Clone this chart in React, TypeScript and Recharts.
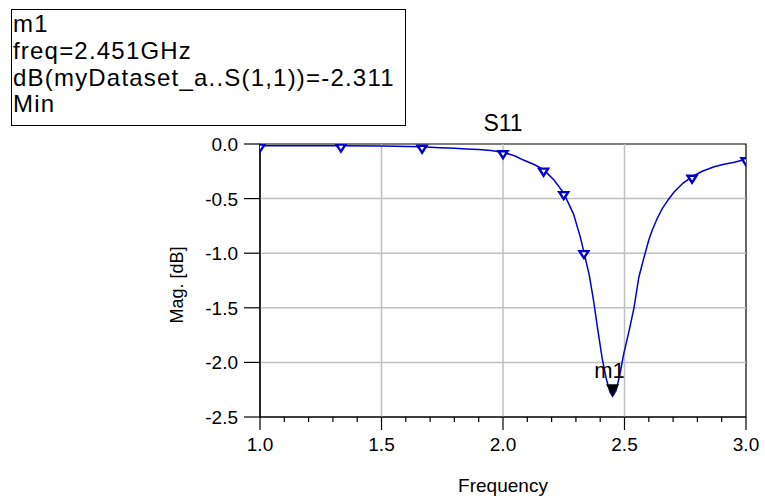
import React from 'react';
import {
  ComposedChart,
  Line,
  Scatter,
  XAxis,
  YAxis,
  ReferenceLine,
  ReferenceArea,
  Label
} from 'recharts';

// S11 sweep (GHz, dB)
const freq = [
  1.0, 1.1, 1.2, 1.333, 1.5, 1.667, 1.74, 1.8, 1.85, 1.9, 1.95, 2.0, 2.05, 2.084, 2.13, 2.167,
  2.21, 2.25, 2.29, 2.318, 2.333, 2.355, 2.373, 2.39, 2.408, 2.425, 2.44, 2.451, 2.465, 2.48,
  2.497, 2.52, 2.539, 2.559, 2.58, 2.6, 2.614, 2.635, 2.656, 2.68, 2.704, 2.74, 2.778, 2.82,
  2.869, 2.91, 2.952, 3.0
];
const s11 = [
  -0.015, -0.015, -0.015, -0.015, -0.018, -0.025, -0.034, -0.04, -0.045, -0.05, -0.06, -0.075,
  -0.11, -0.147, -0.19, -0.235, -0.33, -0.45, -0.64, -0.85, -0.99, -1.2, -1.44, -1.7, -1.96,
  -2.15, -2.27, -2.311, -2.26, -2.12, -1.92, -1.7, -1.5, -1.22, -1.04, -0.88, -0.79, -0.68,
  -0.59, -0.51, -0.44, -0.36, -0.3, -0.25, -0.209, -0.185, -0.168, -0.14
];

// sample markers (triangles) along the trace
const markerFreq = [1.0, 1.333, 1.667, 2.0, 2.167, 2.25, 2.333, 2.778, 3.0];
const markerDb = [-0.015, -0.015, -0.025, -0.075, -0.235, -0.45, -0.99, -0.3, -0.14];

// marker m1
const m1Freq = 2.451;
const m1Db = -2.311;

const xTicks = [
  1.0, 1.1, 1.2, 1.3, 1.4, 1.5, 1.6, 1.7, 1.8, 1.9, 2.0, 2.1, 2.2, 2.3, 2.4, 2.5, 2.6, 2.7,
  2.8, 2.9, 3.0
];
const yTicks = [0, -0.5, -1.0, -1.5, -2.0, -2.5];
const xGrid = [1.5, 2.0, 2.5];
const yGrid = [-0.5, -1.0, -1.5, -2.0];

const curve = freq.map((f, i) => ({ freq: f, db: s11[i] }));
const markers = markerFreq.map((f, i) => ({ freq: f, db: markerDb[i] }));
const m1 = [{ freq: m1Freq, db: m1Db }];

const FONT = '"Liberation Sans", Arial, sans-serif';
const BLUE = '#0000cc';

const XTick = (props: any) => {
  const { x, y, payload } = props;
  const v = payload.value as number;
  const major = Math.abs(v * 2 - Math.round(v * 2)) < 1e-6;
  return (
    <g>
      <line x1={x} x2={x} y1={y} y2={y + (major ? 13 : 5)} stroke="#000" strokeWidth={1.2} />
      {major && (
        <text x={x} y={y + 34} textAnchor="middle" fontFamily={FONT} fontSize={19} fill="#000">
          {v.toFixed(1)}
        </text>
      )}
    </g>
  );
};

const YTick = (props: any) => {
  const { x, y, payload } = props;
  const v = payload.value as number;
  return (
    <g>
      <line x1={x - 16} x2={x} y1={y} y2={y} stroke="#000" strokeWidth={1.2} />
      <text x={x - 22} y={y + 7} textAnchor="end" fontFamily={FONT} fontSize={19} fill="#000">
        {v.toFixed(1)}
      </text>
    </g>
  );
};

const SampleMarker = (props: any) => {
  const { cx, cy } = props;
  return (
    <polygon
      points={`${cx - 4.5},${cy - 1} ${cx + 4.5},${cy - 1} ${cx},${cy + 6}`}
      fill="#fff"
      stroke={BLUE}
      strokeWidth={2.4}
      strokeLinejoin="miter"
    />
  );
};

const M1Marker = (props: any) => {
  const { cx, cy } = props;
  return (
    <g>
      <polygon points={`${cx - 6.5},${cy - 12} ${cx + 6.5},${cy - 12} ${cx},${cy}`} fill="#000" />
      <text x={cx - 3} y={cy - 18} textAnchor="middle" fontFamily={FONT} fontSize={22} fill="#000">
        m1
      </text>
    </g>
  );
};

const App: React.FC = () => {
  return (
    <div style={{ position: 'absolute', left: 0, top: 0, width: 765, height: 499, background: '#fff', fontFamily: FONT }}>
      <div
        style={{
          position: 'absolute',
          left: 11,
          top: 9,
          width: 392,
          border: '1px solid #000',
          padding: '1px 0 7px 1px',
          fontSize: 24,
          lineHeight: '26.8px',
          letterSpacing: 1.2,
          color: '#000',
          whiteSpace: 'nowrap'
        }}
      >
        <div>m1</div>
        <div>freq=2.451GHz</div>
        <div>dB(myDataset_a..S(1,1))=-2.311</div>
        <div>Min</div>
      </div>
      <div
        style={{
          position: 'absolute',
          left: 403,
          width: 200,
          top: 112,
          textAlign: 'center',
          fontSize: 23,
          lineHeight: '23px'
        }}
      >
        S11
      </div>
      <div
        style={{
          position: 'absolute',
          left: 177,
          top: 285,
          transform: 'translate(-50%, -50%) rotate(-90deg)',
          fontSize: 18,
          lineHeight: '18px',
          whiteSpace: 'nowrap'
        }}
      >
        Mag. [dB]
      </div>
      <ComposedChart
        width={765}
        height={499}
        margin={{ top: 144, right: 19, bottom: 0, left: 161 }}
      >
        <XAxis
          dataKey="freq"
          type="number"
          domain={[1, 3]}
          ticks={xTicks}
          interval={0}
          allowDataOverflow
          tick={XTick}
          tickLine={false}
          tickSize={0}
          tickMargin={0}
          axisLine={{ stroke: '#000', strokeWidth: 1.2 }}
          height={82}
        >
          <Label
            value="Frequency"
            position="insideBottom"
            offset={7}
            style={{ fontFamily: FONT, fontSize: 19, fill: '#000' }}
          />
        </XAxis>
        <YAxis
          dataKey="db"
          type="number"
          domain={[-2.5, 0]}
          ticks={yTicks}
          interval={0}
          allowDataOverflow
          tick={YTick}
          tickLine={false}
          tickSize={0}
          tickMargin={0}
          axisLine={{ stroke: '#000', strokeWidth: 1.2 }}
          width={99}
        />
        {xGrid.map((v) => (
          <ReferenceLine key={`gx${v}`} x={v} stroke="#c0c0c0" strokeWidth={1.5} />
        ))}
        {yGrid.map((v) => (
          <ReferenceLine key={`gy${v}`} y={v} stroke="#c0c0c0" strokeWidth={1.5} />
        ))}
        <ReferenceArea x1={1} x2={3} y1={-2.5} y2={0} fill="none" stroke="#000" strokeWidth={1.2} fillOpacity={0} />
        <Line
          data={curve}
          dataKey="db"
          type="linear"
          stroke={BLUE}
          strokeWidth={1.5}
          dot={false}
          activeDot={false}
          isAnimationActive={false}
        />
        <Scatter data={markers} dataKey="db" shape={SampleMarker} isAnimationActive={false} />
        <Scatter data={m1} dataKey="db" shape={M1Marker} isAnimationActive={false} />
      </ComposedChart>
    </div>
  );
};

export default App;
